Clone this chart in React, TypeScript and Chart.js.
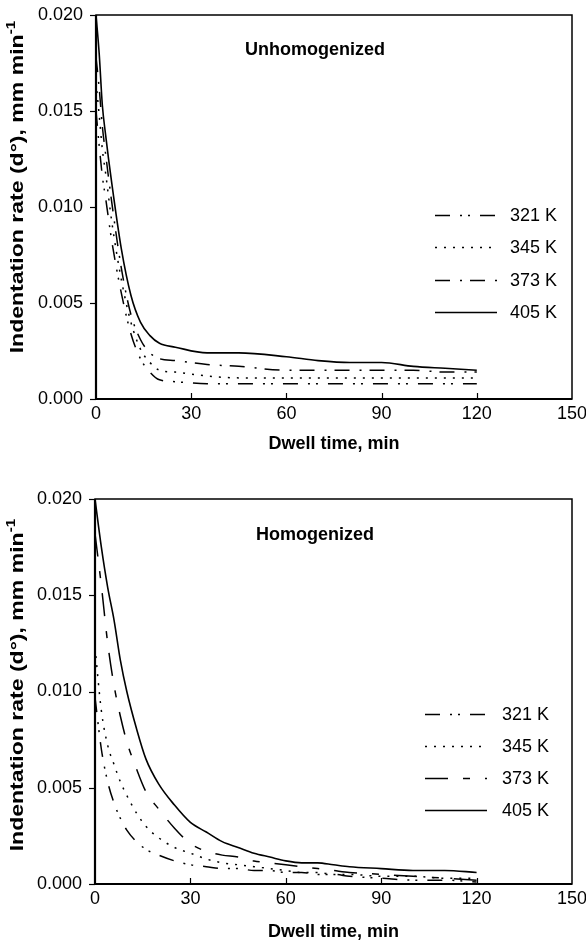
import React, { useEffect, useRef } from "react";
import { Chart, registerables } from "chart.js";

Chart.register(...registerables);

// ---------- data ----------
const seriesLabels = ["321 K", "345 K", "373 K", "405 K"];
const xTickValues = [0, 30, 60, 90, 120, 150];
const yTickValues = [0, 0.005, 0.01, 0.015, 0.02];

const unhomTime = [0, 1, 2, 3, 5, 8, 11, 14, 17, 20, 25, 35, 45, 60, 70, 80, 90, 100, 110, 120];
const unhom321 = [0.0150, 0.0132, 0.0116, 0.0105, 0.0082, 0.0055, 0.0034, 0.0021, 0.0014, 0.0010, 0.0009, 0.0008, 0.0008, 0.0008, 0.0008, 0.0008, 0.0008, 0.0008, 0.0008, 0.0008];
const unhom345 = [0.0165, 0.0148, 0.0130, 0.0118, 0.0092, 0.0062, 0.0040, 0.0026, 0.0019, 0.0015, 0.0014, 0.0012, 0.0011, 0.0011, 0.0011, 0.0011, 0.0011, 0.0011, 0.0011, 0.0011];
const unhom373 = [0.0178, 0.0162, 0.0142, 0.0128, 0.0102, 0.0068, 0.0044, 0.0031, 0.0024, 0.0021, 0.0020, 0.0018, 0.0017, 0.0015, 0.0015, 0.0015, 0.0015, 0.0015, 0.0014, 0.0014];
const unhom405 = [0.0200, 0.0180, 0.0153, 0.0138, 0.0112, 0.0078, 0.0054, 0.0040, 0.0033, 0.0029, 0.0027, 0.0024, 0.0024, 0.0022, 0.0020, 0.0019, 0.0019, 0.0017, 0.0016, 0.0015];

const homTime = [0, 2, 4, 6, 8, 10, 13, 16, 20, 25, 30, 35, 40, 45, 50, 55, 60, 65, 70, 75, 80, 90, 100, 110, 120];
const hom321 = [0.0097, 0.0070, 0.0053, 0.0042, 0.0034, 0.0028, 0.0022, 0.0018, 0.0015, 0.0012, 0.0010, 0.0009, 0.0008, 0.0008, 0.0007, 0.0007, 0.0006, 0.0006, 0.0005, 0.0005, 0.0004, 0.0003, 0.0002, 0.0002, 0.0001];
const hom345 = [0.0123, 0.0090, 0.0072, 0.0062, 0.0053, 0.0046, 0.0037, 0.0030, 0.0024, 0.0019, 0.0016, 0.0013, 0.0011, 0.0010, 0.0009, 0.0008, 0.0007, 0.0006, 0.0006, 0.0005, 0.0005, 0.0004, 0.0004, 0.0003, 0.0003];
const hom373 = [0.0182, 0.0155, 0.0125, 0.0103, 0.0087, 0.0074, 0.0060, 0.0048, 0.0039, 0.0029, 0.0021, 0.0017, 0.0015, 0.0014, 0.0012, 0.0011, 0.0010, 0.0009, 0.0008, 0.0007, 0.0006, 0.0005, 0.0004, 0.0003, 0.0002];
const hom405 = [0.0200, 0.0175, 0.0154, 0.0137, 0.0116, 0.0100, 0.0081, 0.0065, 0.0052, 0.0041, 0.0032, 0.0027, 0.0022, 0.0019, 0.0016, 0.0014, 0.0012, 0.0011, 0.0011, 0.0010, 0.0009, 0.0008, 0.0007, 0.0007, 0.0006];

const xAxisTitle = "Dwell time, min";
const yAxisTitle = "Indentation rate (d\u00B0), mm min";
const yAxisTitleSup = "-1";

const FONT = "'Liberation Sans', Arial, Helvetica, sans-serif";

type PanelProps = {
  title: string;
  time: number[];
  series: number[][];
  dashes: number[][];
  height: number;
  area: { left: number; right: number; top: number; bottom: number };
  titlePos: { x: number; y: number };
  legendPos: { x1: number; x2: number; tx: number; ys: number[] };
  yTitlePos: { x: number; y: number };
  xTitleY: number;
};

function Panel(p: PanelProps) {
  const ref = useRef<HTMLCanvasElement | null>(null);
  useEffect(() => {
    const canvas = ref.current;
    if (!canvas) return;
    const W = 586;
    const decor = {
      id: "decor",
      afterDraw(chart: any) {
        const { ctx, chartArea: a, scales } = chart;
        ctx.save();
        ctx.strokeStyle = "#000";
        ctx.setLineDash([]);
        // frame
        ctx.lineWidth = 1.5;
        ctx.strokeRect(a.left, a.top, a.right - a.left, a.bottom - a.top);
        ctx.lineWidth = 2.2;
        ctx.beginPath();
        ctx.moveTo(a.left, a.top);
        ctx.lineTo(a.left, a.bottom);
        ctx.lineTo(a.right, a.bottom);
        ctx.stroke();
        // x ticks (inside)
        ctx.lineWidth = 1.2;
        xTickValues.forEach((v) => {
          if (v <= 0 || v >= 150) return;
          const px = Math.round(scales.x.getPixelForValue(v)) + 0.5;
          ctx.beginPath();
          ctx.moveTo(px, a.bottom);
          ctx.lineTo(px, a.bottom - 6);
          ctx.stroke();
        });
        // y ticks (outside)
        yTickValues.forEach((v) => {
          const py = Math.round(scales.y.getPixelForValue(v)) + 0.5;
          ctx.beginPath();
          ctx.moveTo(a.left - 6, py);
          ctx.lineTo(a.left, py);
          ctx.stroke();
        });
        // legend
        ctx.font = `18px ${FONT}`;
        ctx.fillStyle = "#000";
        ctx.textAlign = "left";
        ctx.textBaseline = "middle";
        seriesLabels.forEach((lab, i) => {
          const y = p.legendPos.ys[i];
          ctx.lineWidth = 1.5;
          ctx.setLineDash(p.dashes[i]);
          ctx.beginPath();
          ctx.moveTo(p.legendPos.x1, y + 0.5);
          ctx.lineTo(p.legendPos.x2, y + 0.5);
          ctx.stroke();
          ctx.setLineDash([]);
          ctx.fillText(lab, p.legendPos.tx, y + 1);
        });
        // panel title
        ctx.font = `bold 18px ${FONT}`;
        ctx.textAlign = "center";
        ctx.fillText(p.title, p.titlePos.x, p.titlePos.y);
        // x axis title
        ctx.fillText(xAxisTitle, (a.left + a.right) / 2, p.xTitleY);
        // y axis title (rotated, stretched)
        ctx.save();
        ctx.translate(p.yTitlePos.x, p.yTitlePos.y);
        ctx.rotate(-Math.PI / 2);
        ctx.scale(1.28, 1);
        ctx.font = `bold 18px ${FONT}`;
        const mainW = ctx.measureText(yAxisTitle).width;
        ctx.font = `bold 12px ${FONT}`;
        const supW = ctx.measureText(yAxisTitleSup).width;
        const start = -(mainW + supW) / 2;
        ctx.textAlign = "left";
        ctx.font = `bold 18px ${FONT}`;
        ctx.fillText(yAxisTitle, start, 0);
        ctx.font = `bold 12px ${FONT}`;
        ctx.fillText(yAxisTitleSup, start + mainW, -6);
        ctx.restore();
        ctx.restore();
      },
    };

    const chart = new Chart(canvas, {
      type: "line",
      data: {
        datasets: p.series.map((vals, i) => ({
          label: seriesLabels[i],
          data: p.time.map((t, j) => ({ x: t, y: vals[j] })),
          borderColor: "#000",
          borderWidth: i === 3 ? 1.6 : 1.5,
          borderDash: p.dashes[i],
          pointRadius: 0,
          fill: false,
          cubicInterpolationMode: "monotone" as const,
        })),
      },
      options: {
        animation: false,
        responsive: false,
        devicePixelRatio: 1,
        layout: {
          padding: { top: p.area.top, right: W - p.area.right, left: 0, bottom: 0 },
        },
        plugins: { legend: { display: false }, tooltip: { enabled: false }, title: { display: false } },
        scales: {
          x: {
            type: "linear",
            min: 0,
            max: 150,
            grid: { display: false, drawTicks: false },
            border: { display: false },
            afterBuildTicks: (s: any) => {
              s.ticks = xTickValues.map((v) => ({ value: v }));
            },
            afterFit: (s: any) => {
              s.height = p.height - p.area.bottom;
              s.paddingLeft = 0;
              s.paddingRight = 0;
            },
            ticks: {
              color: "#000",
              font: { size: 18, family: FONT },
              padding: 4,
              maxRotation: 0,
              callback: (v: any) => String(v),
            },
          },
          y: {
            type: "linear",
            min: 0,
            max: 0.02,
            grid: { display: false, drawTicks: false },
            border: { display: false },
            afterBuildTicks: (s: any) => {
              s.ticks = yTickValues.map((v) => ({ value: v }));
            },
            afterFit: (s: any) => {
              s.width = p.area.left;
              s.paddingTop = 0;
              s.paddingBottom = 0;
            },
            ticks: {
              color: "#000",
              font: { size: 18, family: FONT },
              padding: 13,
              callback: (v: any) => Number(v).toFixed(3),
            },
          },
        },
      },
      plugins: [decor],
    });
    return () => chart.destroy();
  }, []);
  return <canvas ref={ref} width={586} height={p.height} style={{ display: "block", width: 586, height: p.height }} />;
}

export default function App() {
  return (
    <div style={{ position: "absolute", left: 0, top: 0, width: 586, height: 946, background: "#fff" }}>
      <Panel
        title="Unhomogenized"
        time={unhomTime}
        series={[unhom321, unhom345, unhom373, unhom405]}
        dashes={[[15, 10, 2, 6, 2, 10], [2, 7], [15, 10, 2, 8], []]}
        height={473}
        area={{ left: 96, right: 572, top: 15, bottom: 399 }}
        titlePos={{ x: 315, y: 50 }}
        legendPos={{ x1: 435, x2: 497, tx: 510, ys: [215, 247, 280, 312] }}
        yTitlePos={{ x: 18, y: 187 }}
        xTitleY={444}
      />
      <Panel
        title="Homogenized"
        time={homTime}
        series={[hom321, hom345, hom373, hom405]}
        dashes={[[15, 10, 2, 6, 2, 10], [2, 7], [23, 15, 7, 15], []]}
        height={473}
        area={{ left: 95, right: 572, top: 26, bottom: 411 }}
        titlePos={{ x: 315, y: 62 }}
        legendPos={{ x1: 425, x2: 487, tx: 502, ys: [241, 273, 305, 337] }}
        yTitlePos={{ x: 18, y: 212 }}
        xTitleY={459}
      />
    </div>
  );
}
